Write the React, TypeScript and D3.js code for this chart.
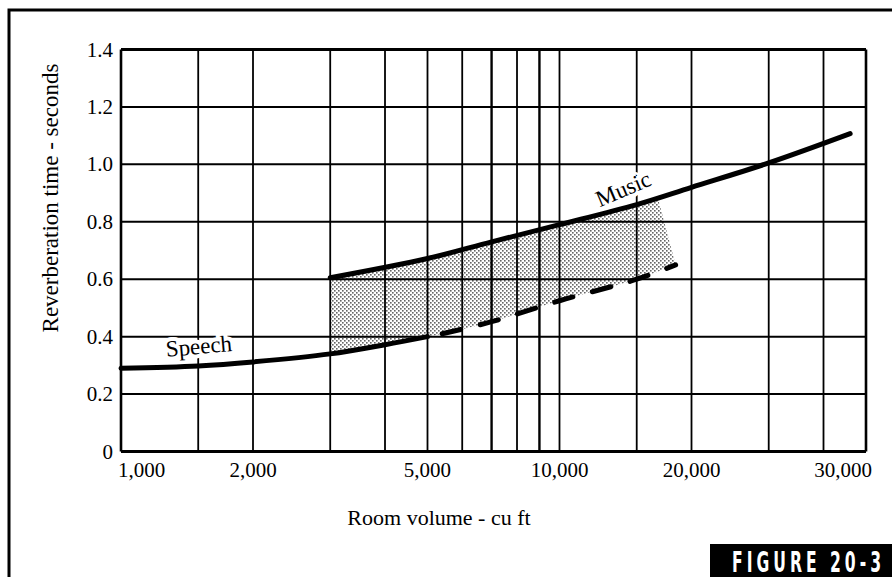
import React from "react";
import * as d3 from "d3";

// ---- data ----
const gridVolumes = [1000, 1500, 2000, 3000, 4000, 5000, 6000, 7000, 8000, 9000, 10000, 15000, 20000, 30000, 40000, 50000];
const heavyGridVolumes = [7000, 9000];
const yTickValues = [0, 0.2, 0.4, 0.6, 0.8, 1.0, 1.2, 1.4];
const yTickLabels = ["0", "0.2", "0.4", "0.6", "0.8", "1.0", "1.2", "1.4"];
const xTickValues = [1000, 2000, 5000, 10000, 20000, 30000];
const xTickLabels = ["1,000", "2,000", "5,000", "10,000", "20,000", "30,000"];

const speechVolume = [1000, 1500, 2000, 3000, 4000, 5000];
const speechTime = [0.29, 0.298, 0.312, 0.34, 0.372, 0.4];

const speechUpperVolume = [5400, 7000, 10000, 15000, 18400];
const speechUpperTime = [0.41, 0.452, 0.525, 0.6, 0.65];

const musicVolume = [3000, 5000, 7000, 10000, 15000, 20000, 30000, 46000];
const musicTime = [0.605, 0.672, 0.73, 0.79, 0.86, 0.92, 1.005, 1.107];

const shadeTopVolume = [3000, 5000, 7000, 10000, 15000, 16800];
const shadeTopTime = [0.605, 0.672, 0.73, 0.79, 0.86, 0.878];

const xTitle = "Room volume - cu ft";
const yTitle = "Reverberation time - seconds";
const figureLabel = "FIGURE 20-3";

const W = 892;
const H = 577;
const serif = "'Liberation Serif', 'Times New Roman', serif";

export default function App() {
  const x = d3.scaleLog().domain([1000, 50000]).range([121, 866]);
  const y = d3.scaleLinear().domain([0, 1.4]).range([451.5, 49.5]);

  const line = d3
    .line<[number, number]>()
    .x((d) => x(d[0]))
    .y((d) => y(d[1]))
    .curve(d3.curveCatmullRom.alpha(0.5));

  const speechPts = speechVolume.map((v, i) => [v, speechTime[i]] as [number, number]);
  const upperPts = speechUpperVolume.map((v, i) => [v, speechUpperTime[i]] as [number, number]);
  const musicPts = musicVolume.map((v, i) => [v, musicTime[i]] as [number, number]);
  const topPts = shadeTopVolume.map((v, i) => [v, shadeTopTime[i]] as [number, number]);

  const bottomUpper = line([...upperPts].reverse()) || "";
  const bottomSpeech = line(speechPts.filter((p) => p[0] >= 3000).reverse()) || "";
  const shadePath =
    (line(topPts) || "") +
    "L" + bottomUpper.slice(1) +
    "L" + bottomSpeech.slice(1) +
    "Z";

  const [x0, x1] = x.range();
  const [yb, yt] = y.range();
  const tagScale = 0.62;

  return (
    <svg
      width={W}
      height={H}
      viewBox={`0 0 ${W} ${H}`}
      style={{ position: "absolute", left: 0, top: 0, display: "block", background: "#fff" }}
    >
      <defs>
        <pattern id="stipple" width={4} height={4} patternUnits="userSpaceOnUse">
          <rect x={0.2} y={0.2} width={1.3} height={1.3} fill="#111" />
          <rect x={2.2} y={2.2} width={1.3} height={1.3} fill="#111" />
        </pattern>
      </defs>
      <rect x={0} y={0} width={W} height={H} fill="#fff" />

      {/* outer frame */}
      <path d={`M9,${H} L9,10 L${W},10`} fill="none" stroke="#000" strokeWidth={3} />

      {/* shaded band */}
      <path d={shadePath} fill="url(#stipple)" stroke="none" />

      {/* grid */}
      {gridVolumes.map((v) => (
        <line
          key={"gx" + v}
          x1={x(v)}
          x2={x(v)}
          y1={yt}
          y2={yb}
          stroke="#000"
          strokeWidth={v === 1000 || v === 50000 ? 2.6 : heavyGridVolumes.includes(v) ? 2.4 : 1.8}
        />
      ))}
      {yTickValues.map((t) => (
        <line
          key={"gy" + t}
          x1={x0}
          x2={x1}
          y1={y(t)}
          y2={y(t)}
          stroke="#000"
          strokeWidth={t === 0 || t === 1.4 ? 2.8 : 2}
        />
      ))}

      {/* y tick labels */}
      {yTickValues.map((t, i) => (
        <text
          key={"yl" + t}
          x={x0 - 8}
          y={y(t)}
          dy="0.34em"
          textAnchor="end"
          fontFamily={serif}
          fontSize={21}
          fill="#000"
        >
          {yTickLabels[i]}
        </text>
      ))}

      {/* x tick labels */}
      {xTickValues.map((v, i) => {
        const first = i === 0;
        const last = i === xTickValues.length - 1;
        const px = first ? x(v) - 3 : last ? x1 + 6 : x(v);
        return (
          <text
            key={"xl" + v}
            x={px}
            y={477}
            textAnchor={first ? "start" : last ? "end" : "middle"}
            fontFamily={serif}
            fontSize={21}
            fill="#000"
          >
            {xTickLabels[i]}
          </text>
        );
      })}

      {/* curve labels (white halo knocks out the grid) */}
      <g transform={`translate(${x(1510)},${y(0.34)}) rotate(-5)`}>
        <text
          textAnchor="middle"
          fontFamily={serif}
          fontSize={23}
          fill="#000"
          stroke="#fff"
          strokeWidth={8}
          strokeLinejoin="round"
          paintOrder="stroke"
        >
          Speech
        </text>
      </g>
      <g transform={`translate(${x(14200)},${y(0.89)}) rotate(-23)`}>
        <text
          textAnchor="middle"
          fontFamily={serif}
          fontSize={23}
          fill="#000"
          stroke="#fff"
          strokeWidth={8}
          strokeLinejoin="round"
          paintOrder="stroke"
        >
          Music
        </text>
      </g>

      {/* curves */}
      <path d={line(speechPts) || ""} fill="none" stroke="#000" strokeWidth={5} strokeLinecap="round" />
      <path
        d={line(upperPts) || ""}
        fill="none"
        stroke="#000"
        strokeWidth={5}
        strokeLinecap="round"
        strokeDasharray="19 20"
      />
      <path d={line(musicPts) || ""} fill="none" stroke="#000" strokeWidth={5} strokeLinecap="round" />

      {/* axis titles */}
      <text x={439} y={525} textAnchor="middle" fontFamily={serif} fontSize={22} fill="#000">
        {xTitle}
      </text>
      <g transform="translate(58,198) rotate(-90)">
        <text textAnchor="middle" fontFamily={serif} fontSize={23} fill="#000">
          {yTitle}
        </text>
      </g>

      {/* figure tag */}
      <rect x={710} y={544} width={W - 710} height={H - 544} fill="#000" />
      <g transform={`translate(732,572) scale(${tagScale},1)`}>
        <text
          x={0}
          y={0}
          fontFamily="'DejaVu Sans Condensed', 'Liberation Sans Narrow', 'Roboto', sans-serif"
          fontWeight="bold"
          fontSize={28}
          fill="#fff"
          textLength={149 / tagScale}
          lengthAdjust="spacing"
        >
          {figureLabel}
        </text>
      </g>
    </svg>
  );
}
